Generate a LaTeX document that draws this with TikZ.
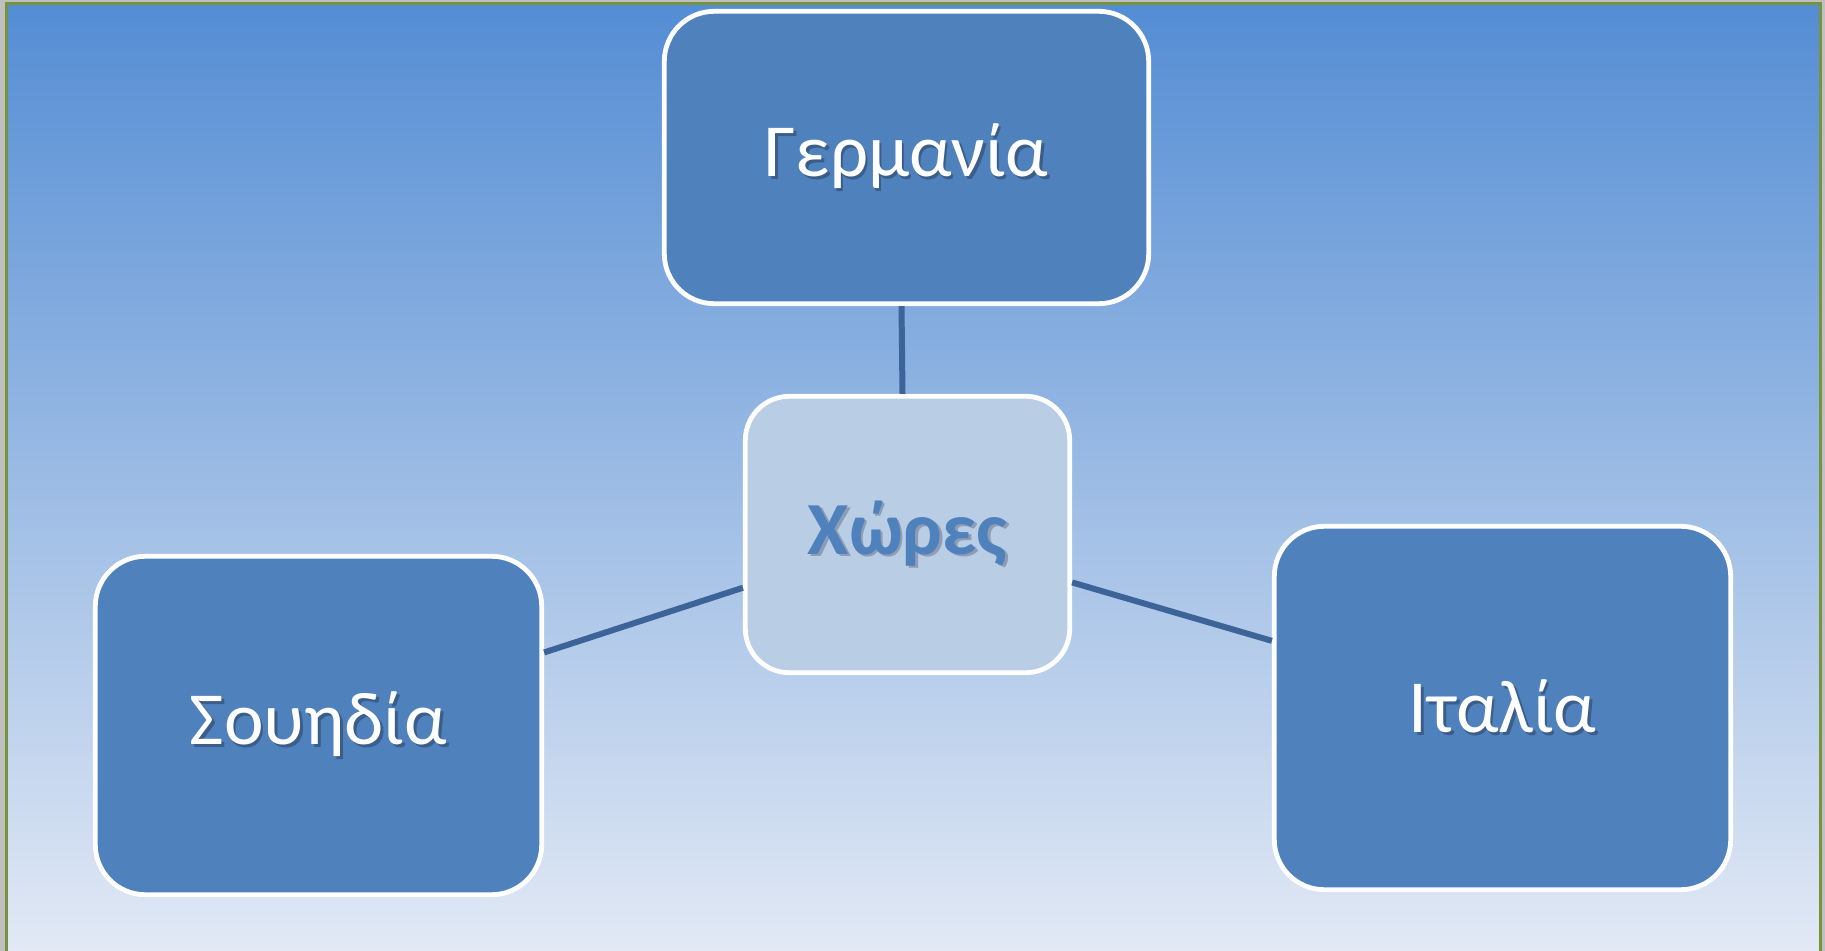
\documentclass[tikz,border=0pt]{standalone}
\usepackage{fontspec}
\setmainfont{Carlito}
\usepackage{tikz}
\usetikzlibrary{positioning,calc}
\definecolor{fondHaut}{HTML}{548DD4}
\definecolor{fondMilieu}{HTML}{BDCEEC}
\definecolor{fondBas}{HTML}{E2E9F5}
\definecolor{bleuBoite}{HTML}{4F81BD}
\definecolor{bleuClair}{HTML}{B9CDE5}
\definecolor{bleuLien}{HTML}{3C6499}
\definecolor{ombreFonce}{HTML}{3A5D8A}
\definecolor{ombreGris}{HTML}{8E9DB3}
\definecolor{vertCadre}{HTML}{77933C}
\definecolor{grisMarge}{HTML}{C0C0C0}

\begin{document}
\begin{tikzpicture}[x=0.5pt,y=-0.5pt]
\tikzstyle{pays}=[draw=white,line width=2.4pt,fill=bleuBoite,rounded corners=25pt,text=white,font=\fontsize{37.5}{44}\selectfont]
\tikzstyle{centre}=[pays,fill=bleuClair,rounded corners=22pt,text=bleuBoite,font=\fontsize{37.5}{44}\selectfont\bfseries]
\tikzstyle{lien}=[bleuLien,line width=3pt]
\def\ombre#1#2{\makebox[0pt][l]{\hspace{1.3pt}\raisebox{-1.3pt}{\color{#2}#1}}#1}
\useasboundingbox (0,0) rectangle (1825,951);
% fond
\fill[grisMarge] (0,0) rectangle (1825,951);
\shade[top color=fondHaut,middle color=fondMilieu,bottom color=fondBas] (6,3) rectangle (1821,951);
\draw[vertCadre,line width=1.5pt] (6.5,960) -- (6.5,3.5) -- (1820.5,3.5) -- (1820.5,960);
% boites
\node[pays,minimum width=242.2pt,minimum height=146.2pt] (allemagne) at (906.5,157.5) {\ombre{Γερμανία}{ombreFonce}};
\node[centre,minimum width=162.2pt,minimum height=138.2pt] (chores) at (907.5,534.5) {\ombre{Χώρες}{ombreGris}};
\node[pays,minimum width=223.2pt,minimum height=169.2pt] (suede) at (318.5,725.5) {\ombre{Σουηδία}{ombreFonce}};
\node[pays,minimum width=228.2pt,minimum height=181.7pt] (italie) at (1502.5,708) {\ombre{Ιταλία}{ombreFonce}};
% liens
\draw[lien] ([xshift=-2.5pt]allemagne.south) -- ([xshift=-2.5pt]chores.north);
\draw[lien] (suede) -- (chores);
\draw[lien] (italie) -- (chores);
\end{tikzpicture}
\end{document}
